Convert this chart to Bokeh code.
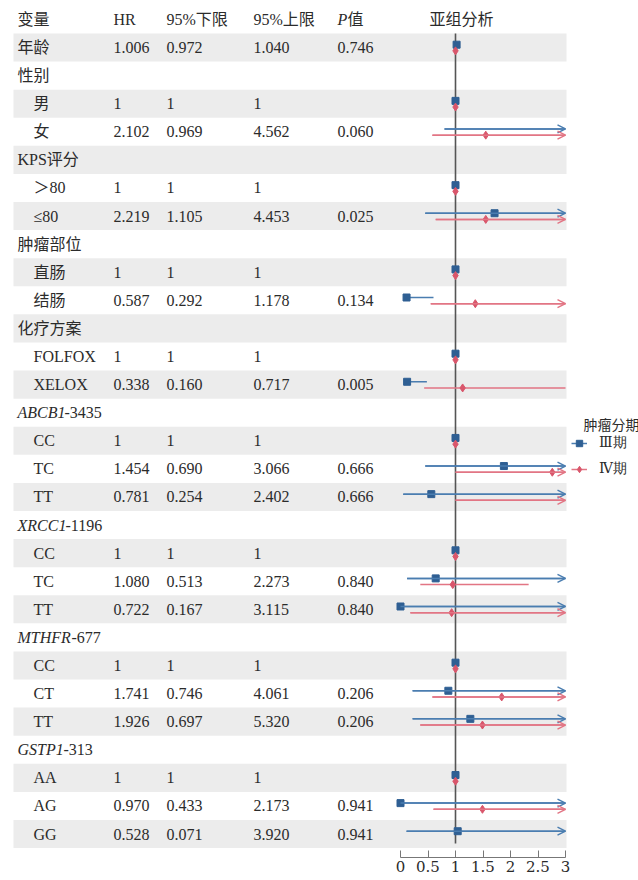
import math
from bokeh.plotting import figure
from bokeh.models import (ColumnDataSource, Range1d, FixedTicker, Arrow, OpenHead,
                          Legend, LegendItem)
from bokeh.core.properties import value
from bokeh.embed import file_html
from bokeh.resources import INLINE

NaN = float("nan")

# ---------------- data ----------------
variables = ["年龄", "性别", "男", "女", "KPS评分", "＞80", "≤80", "肿瘤部位", "直肠", "结肠",
             "化疗方案", "FOLFOX", "XELOX", "ABCB1", "CC", "TC", "TT", "XRCC1", "CC", "TC", "TT",
             "MTHFR", "CC", "CT", "TT", "GSTP1", "AA", "AG", "GG"]
is_sub = [0, 0, 1, 1, 0, 1, 1, 0, 1, 1, 0, 1, 1, 0, 1, 1, 1, 0, 1, 1, 1, 0, 1, 1, 1, 0, 1, 1, 1]
gene_suffix = {"ABCB1": "-3435", "XRCC1": "-1196", "MTHFR": "-677", "GSTP1": "-313"}

hr_text = ["1.006", "", "1", "2.102", "", "1", "2.219", "", "1", "0.587", "", "1", "0.338", "",
           "1", "1.454", "0.781", "", "1", "1.080", "0.722", "", "1", "1.741", "1.926", "",
           "1", "0.970", "0.528"]
lo_text = ["0.972", "", "1", "0.969", "", "1", "1.105", "", "1", "0.292", "", "1", "0.160", "",
           "1", "0.690", "0.254", "", "1", "0.513", "0.167", "", "1", "0.746", "0.697", "",
           "1", "0.433", "0.071"]
up_text = ["1.040", "", "1", "4.562", "", "1", "4.453", "", "1", "1.178", "", "1", "0.717", "",
           "1", "3.066", "2.402", "", "1", "2.273", "3.115", "", "1", "4.061", "5.320", "",
           "1", "2.173", "3.920"]
p_text = ["0.746", "", "", "0.060", "", "", "0.025", "", "", "0.134", "", "", "0.005", "",
          "", "0.666", "0.666", "", "", "0.840", "0.840", "", "", "0.206", "0.206", "",
          "", "0.941", "0.941"]

# subgroup analysis; values > 3 run off the axis (arrow)
s3_est = [1.02, NaN, 1, NaN, NaN, 1, 1.71, NaN, 1, 0.11, NaN, 1, 0.12, NaN,
          1, 1.88, 0.56, NaN, 1, 0.64, 0.0, NaN, 1, 0.87, 1.27, NaN, 1, 0.0, 1.04]
s3_lo = [0.99, NaN, 1, 0.80, NaN, 1, 0.45, NaN, 1, 0.08, NaN, 1, 0.10, NaN,
         1, 0.45, 0.05, NaN, 1, 0.12, 0.0, NaN, 1, 0.22, 0.22, NaN, 1, 0.0, 0.11]
s3_hi = [1.05, NaN, 1, 4.0, NaN, 1, 4.0, NaN, 1, 0.60, NaN, 1, 0.48, NaN,
         1, 4.0, 4.0, NaN, 1, 4.0, 4.0, NaN, 1, 4.0, 4.0, NaN, 1, 4.0, 4.0]
s4_est = [1.0, NaN, 1, 1.55, NaN, 1, 1.55, NaN, 1, 1.36, NaN, 1, 1.13, NaN,
          1, 2.76, NaN, NaN, 1, 0.95, 0.93, NaN, 1, 1.84, 1.49, NaN, 1, 1.49, NaN]
s4_lo = [1.0, NaN, 1, 0.58, NaN, 1, 0.64, NaN, 1, 0.55, NaN, 1, 0.43, NaN,
         1, 1.0, 1.0, NaN, 1, 0.36, 0.18, NaN, 1, 0.58, 0.36, NaN, 1, 0.60, NaN]
s4_hi = [1.0, NaN, 1, 4.0, NaN, 1, 4.0, NaN, 1, 4.0, NaN, 1, 3.0, NaN,
         1, 4.0, 4.0, NaN, 1, 2.33, 4.0, NaN, 1, 4.0, 4.0, NaN, 1, 4.0, NaN]

axis_ticks = [0, 0.5, 1, 1.5, 2, 2.5, 3]
axis_max = 3
ref_hr = 1

# ---------------- layout helpers ----------------
W, H = 638, 880
PX0, PXU = 400.0, 55.0            # px of x=0, px per unit
def px2x(px):
    return (px - PX0) / PXU

ROW0, ROW_STEP = 47.0, 28.09
FRAME_H = 857
y_top = 1 - ROW0 / ROW_STEP
y_bot = 1 + (FRAME_H - ROW0) / ROW_STEP

FONT = "'Liberation Serif', 'Noto Sans CJK SC'"
AXFONT = "DejaVu Serif"
TXT = "#2b2b2b"
BLUE_L, BLUE_M = "#4a7db0", "#2f5f93"
RED_L, RED_M = "#e27584", "#d9566b"

p = figure(width=W, height=H, output_backend="svg", toolbar_location=None,
           x_range=Range1d(px2x(0), px2x(W)), y_range=Range1d(y_bot, y_top),
           y_axis_location=None, tools="")
p.min_border_left = 0
p.min_border_right = 0
p.min_border_top = 0
p.min_border_bottom = H - FRAME_H
p.outline_line_color = None
p.grid.visible = False
p.background_fill_color = "white"
p.border_fill_color = "white"

n = len(variables)
rows = list(range(1, n + 1))

# shaded bands
band_rows = [r for r in rows if r % 2 == 1]
p.hbar(y=band_rows, left=px2x(13), right=px2x(566), height=1.0,
       fill_color="#ececec", line_color=None)

# reference line
p.segment(x0=[ref_hr], x1=[ref_hr], y0=[0.5], y1=[29.34], line_color="#555555", line_width=1.6)

# ---------------- table text ----------------
def add_text(xs, ys, ts, style="normal", size="16px", align="left"):
    p.text(x=xs, y=ys, text=ts, text_font=value(FONT), text_font_size=size,
           text_font_style=style, text_baseline="middle", text_align=align, text_color=TXT)

# header
add_text([px2x(17), px2x(113), px2x(166), px2x(253), px2x(347), px2x(429)], [0] * 6,
         ["变量", "HR", "95%下限", "95%上限", "值", "亚组分析"])
add_text([px2x(337)], [0], ["P"], style="italic")

normal_x, normal_y, normal_t = [], [], []
ital_x, ital_y, ital_t = [], [], []
suffix_off = {"ABCB1": 47, "XRCC1": 48, "MTHFR": 54, "GSTP1": 46}
for r, name, sub in zip(rows, variables, is_sub):
    if name in gene_suffix:
        ital_x.append(px2x(17)); ital_y.append(r); ital_t.append(name)
        normal_x.append(px2x(17 + suffix_off[name])); normal_y.append(r)
        normal_t.append(gene_suffix[name])
    else:
        normal_x.append(px2x(33 if sub else 17)); normal_y.append(r); normal_t.append(name)
add_text(normal_x, normal_y, normal_t)
add_text(ital_x, ital_y, ital_t, style="italic")

for col_px, col in [(113, hr_text), (166, lo_text), (253, up_text), (337, p_text)]:
    add_text([px2x(col_px)] * n, rows, col)

# ---------------- forest series ----------------
def series(est, lo, hi, off, lcol, mcol, marker, msize):
    seg = dict(x0=[], x1=[], y=[])
    arr = dict(x0=[], x1=[], y=[])
    pts = dict(x=[], y=[])
    for r, e, a, b in zip(rows, est, lo, hi):
        if not math.isnan(a):
            seg["x0"].append(a); seg["x1"].append(min(b, axis_max)); seg["y"].append(r + off)
            if b > axis_max:
                arr["x0"].append(a); arr["x1"].append(axis_max); arr["y"].append(r + off)
        if not math.isnan(e):
            pts["x"].append(e); pts["y"].append(r + off)
    sr = p.segment(x0="x0", x1="x1", y0="y", y1="y", source=ColumnDataSource(seg),
                   line_color=lcol, line_width=1.5)
    p.add_layout(Arrow(end=OpenHead(size=8, line_color=lcol, line_width=1.4),
                       x_start="x0", x_end="x1", y_start="y", y_end="y",
                       source=ColumnDataSource(arr), line_color=lcol, line_width=1.5))
    mr = p.scatter(x="x", y="y", source=ColumnDataSource(pts), marker=marker, size=msize,
                   fill_color=mcol, line_color=mcol)
    return sr, mr

b_seg, b_pts = series(s3_est, s3_lo, s3_hi, -0.1, BLUE_L, BLUE_M, "square", 7)
r_seg, r_pts = series(s4_est, s4_lo, s4_hi, 0.12, RED_L, RED_M, "diamond", 8)

# ---------------- x axis ----------------
ax = p.xaxis[0]
ax.ticker = FixedTicker(ticks=axis_ticks)
ax.major_label_overrides = {t: ("%g" % t) for t in axis_ticks}
ax.bounds = (0, axis_max)
ax.minor_tick_line_color = None
ax.major_tick_in = 7
ax.major_tick_out = 0
ax.major_label_standoff = 3
ax.axis_line_color = "#777777"
ax.major_tick_line_color = "#777777"
ax.major_label_text_font = AXFONT
ax.major_label_text_font_size = "15px"
ax.major_label_text_font_style = "normal"
ax.major_label_text_color = TXT

# ---------------- legend ----------------
add_text([px2x(583)], [1 + (425 - ROW0) / ROW_STEP], ["肿瘤分期"], size="14px")
legend = Legend(items=[LegendItem(label="Ⅲ期", renderers=[b_seg, b_pts]),
                       LegendItem(label="Ⅳ期", renderers=[r_seg, r_pts])],
                location=(571, FRAME_H - 479), orientation="vertical",
                glyph_width=16, glyph_height=20, label_height=20, spacing=6,
                label_standoff=12, padding=0, margin=0,
                background_fill_alpha=0, border_line_color=None,
                label_text_font=AXFONT, label_text_font_size="14px", label_text_color=TXT)
p.add_layout(legend)

open("out.html", "w").write(file_html(p, INLINE))
